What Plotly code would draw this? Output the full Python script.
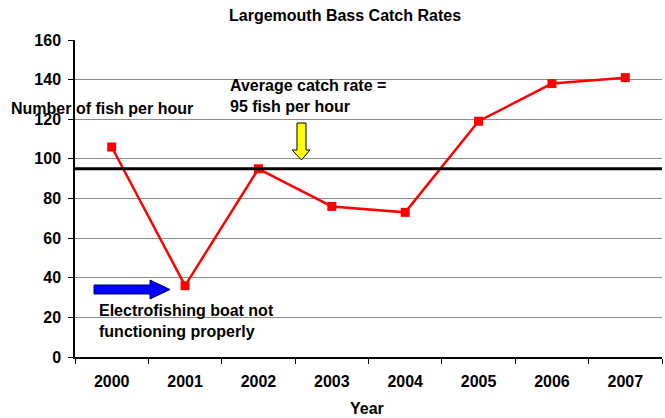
import plotly.graph_objects as go

years = ["2000", "2001", "2002", "2003", "2004", "2005", "2006", "2007"]
catch_rate = [106, 36, 95, 76, 73, 119, 138, 141]
average_rate = 95
y_ticks = [0, 20, 40, 60, 80, 100, 120, 140, 160]

W, H = 665, 418
L, R, T, B = 75, 3, 40, 61
FONT = "Liberation Sans, Arial, sans-serif"


def px(x):
    return (x - L) / (W - L - R)


def py(y):
    return 1 - (y - T) / (H - T - B)


def path(points):
    return "M " + " L ".join(f"{px(x):.5f},{py(y):.5f}" for x, y in points) + " Z"


fig = go.Figure()
fig.add_trace(go.Scatter(
    x=years, y=catch_rate, mode="lines+markers",
    line=dict(color="#ff0000", width=2.5),
    marker=dict(symbol="square", size=9, color="#ff0000"),
    showlegend=False,
))

# average line across the full plot width
fig.add_shape(type="line", xref="paper", yref="y", x0=0, x1=1,
              y0=average_rate, y1=average_rate,
              line=dict(color="black", width=3))

# blue arrow pointing to 2001
fig.add_shape(type="path", xref="paper", yref="paper",
              path=path([(94, 285), (150, 285), (150, 280), (170, 289.5),
                         (150, 299), (150, 294), (94, 294)]),
              fillcolor="#0000ff", line=dict(color="#000066", width=1))

# yellow arrow pointing at the average line
fig.add_shape(type="path", xref="paper", yref="paper",
              path=path([(297, 123), (306, 123), (306, 150), (310, 150),
                         (301.5, 160), (292, 150), (297, 150)]),
              fillcolor="#ffff00", line=dict(color="black", width=1))

bold = dict(family=FONT, size=16, color="black")
fig.add_annotation(text="<b>Average catch rate =<br>95 fish per hour</b>",
                   xref="paper", yref="paper", x=px(228), y=py(96),
                   xanchor="left", yanchor="middle", align="left",
                   showarrow=False, font=bold)
fig.add_annotation(text="<b>Electrofishing boat not<br>functioning properly</b>",
                   xref="paper", yref="paper", x=px(97), y=py(321),
                   xanchor="left", yanchor="middle", align="left",
                   showarrow=False, font=bold)
fig.add_annotation(text="<b>Number of fish per hour</b>",
                   xref="paper", yref="paper", x=px(9), y=py(108),
                   xanchor="left", yanchor="middle",
                   showarrow=False, font=bold)
fig.add_annotation(text="<b>Year</b>",
                   xref="paper", yref="paper", x=px(367), y=py(408),
                   xanchor="center", yanchor="middle",
                   showarrow=False, font=bold)
fig.add_annotation(text="<b>Largemouth Bass Catch Rates</b>",
                   xref="paper", yref="paper", x=px(345), y=py(15),
                   xanchor="center", yanchor="middle",
                   showarrow=False, font=dict(family=FONT, size=16, color="black"))

fig.update_xaxes(
    type="category", range=[-0.5, 7.5], tickson="boundaries",
    ticks="outside", ticklen=5, tickcolor="black", tickwidth=1,
    showline=True, linecolor="black", linewidth=1.5,
    showgrid=False, ticklabelstandoff=9,
    tickfont=bold, tickprefix="<b>", ticksuffix="</b>",
)
fig.update_yaxes(
    range=[0, 160], tickvals=y_ticks,
    ticktext=[f"<b>{v}</b>" for v in y_ticks],
    ticks="outside", ticklen=5, tickcolor="black", tickwidth=1,
    showline=True, linecolor="black", linewidth=1.5,
    showgrid=True, gridcolor="#8c8c8c", gridwidth=1,
    zeroline=False, tickfont=bold, ticklabelstandoff=4,
)
fig.update_layout(
    width=W, height=H,
    margin=dict(l=L, r=R, t=T, b=B),
    paper_bgcolor="white", plot_bgcolor="white",
    font=dict(family=FONT),
)
fig.write_html("out.html")
